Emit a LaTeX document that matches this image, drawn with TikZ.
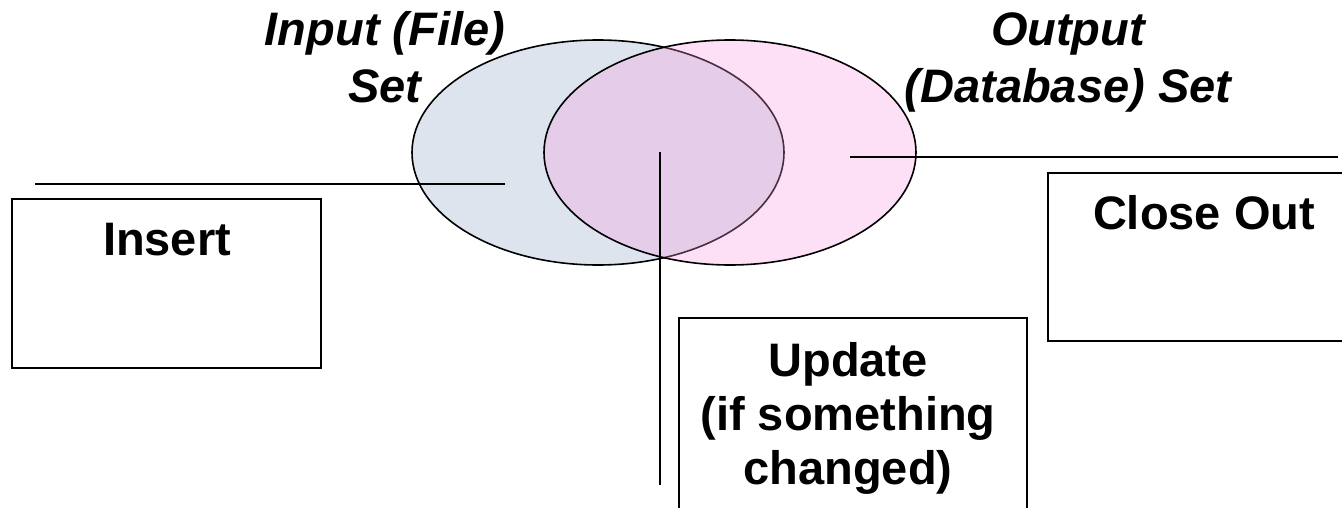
\documentclass[tikz,border=0pt]{standalone}
\usepackage{fontspec}
\setmainfont{Liberation Sans}
\usetikzlibrary{shapes.geometric}
\definecolor{fileB}{HTML}{DDE4EE}
\definecolor{dbP}{HTML}{F898DE}

\begin{document}
\begin{tikzpicture}[x=1pt, y=-1pt, line width=1.6pt,
   setA/.style={ellipse, draw, fill=fileB, minimum width=372pt, minimum height=225pt, inner sep=0pt},
   setB/.style={setA, fill=dbP, fill opacity=0.3},
   box/.style={draw, line width=1.8pt, inner sep=0pt},
   boxtext/.style={anchor=north, align=center, inner sep=0pt, font=\fontsize{47}{54}\selectfont\bfseries},
   settext/.style={anchor=north, align=center, inner sep=0pt, font=\fontsize{47}{57}\selectfont\bfseries\itshape}]
  \clip (0,0) rectangle (1342,508);
  % the two sets
  \node[setA] (fileset) at (598,152.5) {};
  \node[setB] (dbset) at (730,152.5) {};
  \node[settext] (filelab) at (385,11) {Input (File)\\Set};
  \node[settext] (dblab) at (1068,12) {Output\\(Database) Set};
  % boxes
  \node[box, minimum width=309pt, minimum height=169pt] (insert) at (166.5,283.5) {};
  \node[box, minimum width=348pt, minimum height=242pt] (update) at (853,439) {};
  \node[box, minimum width=332pt, minimum height=168pt] (closeout) at (1214,257) {};
  \node[boxtext] (inserttxt) at (167,222) {Insert};
  \node[boxtext] (updatetxt) at (848,342) {Update\\(if something\\changed)};
  \node[boxtext] (closetxt) at (1204,195) {Close Out};
  % leader lines
  \coordinate (insA) at (505,184);
  \coordinate (insB) at (35,184);
  \coordinate (updA) at (660,152);
  \coordinate (updB) at (660,485);
  \coordinate (cloA) at (850,157);
  \coordinate (cloB) at (1338,157);
  \draw (insA) -- (insB);
  \draw (updA) -- (updB);
  \draw (cloA) -- (cloB);
\end{tikzpicture}
\end{document}
